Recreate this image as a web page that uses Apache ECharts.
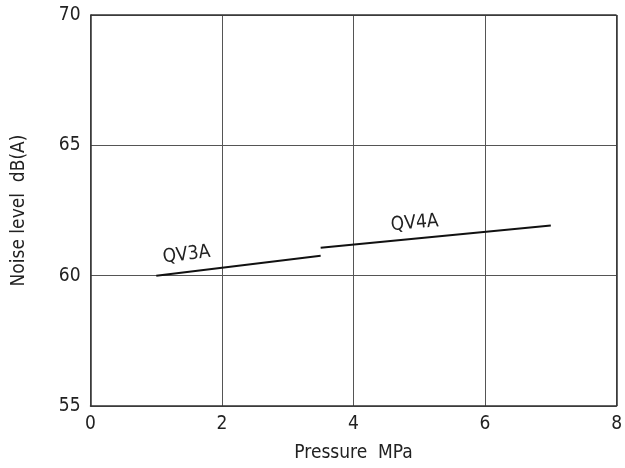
<!DOCTYPE html>
<html>
<head>
<meta charset="utf-8">
<script src="https://cdn.jsdelivr.net/npm/echarts@6/dist/echarts.min.js"></script>
<style>html,body{margin:0;padding:0;background:#fff}#c{width:625px;height:468px}</style>
</head>
<body>
<div id="c"></div>
<script>
const xTicks = [0, 2, 4, 6, 8];
const yTicks = [55, 60, 65, 70];
const qv3a = [[1.0, 60.0], [3.5, 60.76]];
const qv4a = [[3.5, 61.07], [7.0, 61.92]];
const labels = [
  { name: 'QV3A', coord: [1.46, 60.8], rotate: 7 },
  { name: 'QV4A', coord: [4.93, 62.01], rotate: 5 }
];
const FONT = '"DejaVu Sans Condensed", "Liberation Sans", sans-serif';
const FS = 19;
const chart = echarts.init(document.getElementById('c'), null, { renderer: 'canvas' });
const mk = (name, data, lab) => ({
  type: 'line', name, data, symbol: 'none', silent: true,
  lineStyle: { color: '#111', width: 2 },
  markPoint: {
    symbol: 'circle', symbolSize: 0, silent: true,
    label: { show: true, formatter: lab.name, rotate: lab.rotate, color: '#222', fontSize: FS, fontFamily: FONT, position: 'inside' },
    data: [{ coord: lab.coord }]
  }
});
chart.setOption({
  animation: false,
  grid: { left: 90.5, right: 6.5, top: 15, bottom: 57 },
  xAxis: {
    type: 'value', min: xTicks[0], max: xTicks[xTicks.length - 1], interval: 2,
    name: 'Pressure  MPa', nameLocation: 'middle', nameGap: 38,
    nameTextStyle: { color: '#222', fontSize: FS, fontFamily: FONT },
    axisLine: { lineStyle: { color: '#333', width: 1.5 } },
    axisTick: { show: false },
    axisLabel: { color: '#222', fontSize: FS, fontFamily: FONT, margin: 9 },
    splitLine: { show: true, lineStyle: { color: '#555', width: 1 } }
  },
  yAxis: {
    type: 'value', min: yTicks[0], max: yTicks[yTicks.length - 1], interval: 5,
    name: 'Noise level  dB(A)', nameLocation: 'middle', nameGap: 62, nameRotate: 90,
    nameTextStyle: { color: '#222', fontSize: FS, fontFamily: FONT },
    axisLine: { show: true, lineStyle: { color: '#333', width: 1.5 } },
    axisTick: { show: false },
    axisLabel: { color: '#222', fontSize: FS, fontFamily: FONT, margin: 10 },
    splitLine: { show: true, lineStyle: { color: '#555', width: 1 } }
  },
  series: [mk('QV3A', qv3a, labels[0]), mk('QV4A', qv4a, labels[1]),
    { type: 'line', data: [], markLine: { silent: true, symbol: 'none', label: { show: false },
      lineStyle: { color: '#333', width: 1.5, type: 'solid' },
      data: [{ xAxis: 8 }, { yAxis: 70 }] } }]
});
</script>
</body>
</html>
